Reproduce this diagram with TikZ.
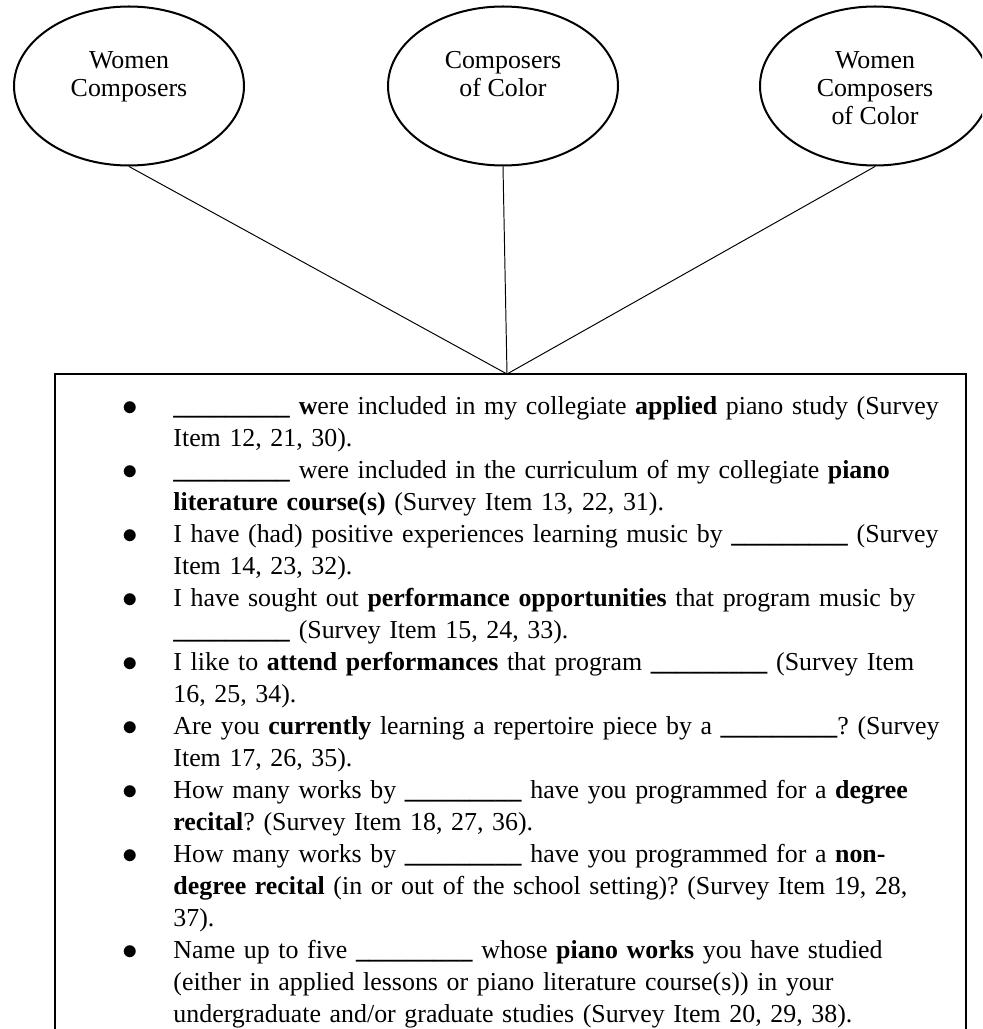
\documentclass[tikz,border=0pt]{standalone}
\usepackage{fontspec}
\setmainfont{Liberation Serif}
\usetikzlibrary{shapes.geometric, positioning, calc}

\newcommand{\blank}{\textbf{\_\_\_\_\_\_\_\_\_}}
\newcommand{\itm}{\par\noindent\llap{\raisebox{-0.5pt}{\fontsize{14}{14}\selectfont$\bullet$}\hspace{16.4pt}}}

\begin{document}
\begin{tikzpicture}[
    x=0.4635pt, y=-0.4635pt,
    group/.style={ellipse, draw, line width=0.93pt, minimum width=106.6pt,
                  minimum height=73.7pt, inner sep=0pt},
    grouptext/.style={anchor=north, align=center, inner sep=0pt,
                      font=\fontsize{12}{13}\selectfont},
    link/.style={line width=0.45pt},
    frameline/.style={line width=1.1pt},
    items/.style={anchor=north west, inner sep=0pt, text width=372pt,
                  align=left, font=\fontsize{12}{14.83}\selectfont\frenchspacing}
]
\useasboundingbox (0,0) rectangle (982,1029);
\clip (0,0) rectangle (982,1029);

% Composer groups
\node[group] (women) at (129,86) {};
\node[group] (color) at (503,86) {};
\node[group] (womencolor) at (875,86) {};
\node[grouptext] (women-t) at (129,51) {Women\\Composers};
\node[grouptext] (color-t) at (503,51) {Composers\\of Color};
\node[grouptext] (womencolor-t) at (875,51) {Women\\Composers\\of Color};

% Links into the survey box
\coordinate (hub) at (507,374);
\draw[link] (women.south) -- (hub);
\draw[link] (color.south) -- (hub);
\draw[link] (womencolor.south) -- (hub);

% Survey box (open at the bottom)
\node[anchor=north west, inner sep=0pt, minimum width=421.8pt,
      minimum height=306pt] (frame) at (55,374) {};
\draw[frameline] (frame.south west) -- (frame.north west)
    -- (frame.north east) -- (frame.south east);

% Survey items
\node[items] (survey) at (173,382) {%
\itm \blank{} \textbf{w}ere included in my collegiate \textbf{applied} piano study (Survey\\
Item 12, 21, 30).
\itm \blank{} were included in the curriculum of my collegiate \textbf{piano}\\
\textbf{literature course(s)} (Survey Item 13, 22, 31).
\itm I have (had) positive experiences learning music by \blank{} (Survey\\
Item 14, 23, 32).
\itm I have sought out \textbf{performance opportunities} that program music by\\
\blank{} (Survey Item 15, 24, 33).
\itm I like to \textbf{attend performances} that program \blank{} (Survey Item\\
16, 25, 34).
\itm Are you \textbf{currently} learning a repertoire piece by a \blank? (Survey\\
Item 17, 26, 35).
\itm How many works by \blank{} have you programmed for a \textbf{degree}\\
\textbf{recital}? (Survey Item 18, 27, 36).
\itm How many works by \blank{} have you programmed for a \textbf{non-}\\
\textbf{degree recital} (in or out of the school setting)? (Survey Item 19, 28,\\
37).
\itm Name up to five \blank{} whose \textbf{piano works} you have studied\\
(either in applied lessons or piano literature course(s)) in your\\
undergraduate and/or graduate studies (Survey Item 20, 29, 38).};

\end{tikzpicture}
\end{document}
